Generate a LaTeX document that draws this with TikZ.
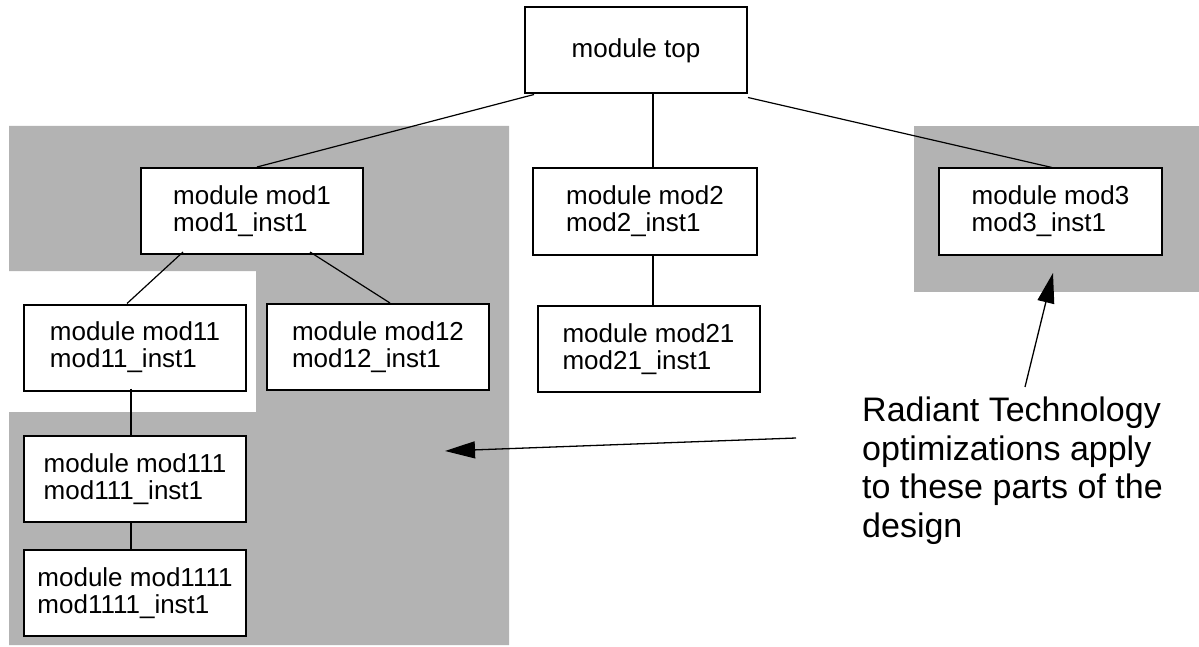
\documentclass[tikz,border=0pt]{standalone}
\usepackage{fontspec}
\setmainfont{Liberation Sans}
\usetikzlibrary{arrows.meta,calc}
\definecolor{regiongray}{RGB}{179,179,179}

\begin{document}
\begin{tikzpicture}[x=1pt,y=-1pt,
		modbox/.style={draw,line width=2pt,fill=white,minimum width=222pt,minimum height=86pt,inner sep=0pt,align=left,font=\fontsize{26}{27}\selectfont},
		link/.style={line width=1.2pt},
		pointer/.style={line width=1.3pt,-{Triangle[length=30pt,width=17pt]}}]
		\useasboundingbox (0,0) rectangle (1199,647);
		
		\fill[regiongray] (9,126) -- (509,126) -- (509,645) -- (9,645) -- (9,412) -- (256,412) -- (256,271) -- (9,271) -- cycle;
		\fill[regiongray] (914,126) rectangle (1199,292);
		
		\node[modbox] (top) at (636,50.5) {module top};
		\node[modbox] (mod1) at (252,211) {module mod1\\mod1\_inst1};
		\node[modbox,minimum width=224pt] (mod2) at (645,211.5) {module mod2\\mod2\_inst1};
		\node[modbox,minimum width=223pt] (mod3) at (1050.5,211.5) {module mod3\\mod3\_inst1};
		\node[modbox] (mod11) at (135,347.5) {module mod11\\mod11\_inst1};
		\node[modbox] (mod12) at (378,347) {module mod12\\mod12\_inst1};
		\node[modbox] (mod21) at (648.5,349) {module mod21\\mod21\_inst1};
		\node[modbox] (mod111) at (135,479) {module mod111\\mod111\_inst1};
		\node[modbox] (mod1111) at (135,593) {module mod1111\\mod1111\_inst1};
		
		\draw[link] ([xshift=10pt]top.south west) -- ([xshift=5pt]mod1.north);
		\draw[link] ([xshift=17pt]top.south) -- ([xshift=8pt]mod2.north);
		\draw[link] ([yshift=-3pt]top.south east) -- ([xshift=1.5pt]mod3.north);
		\draw[link] ([xshift=8pt]mod2.south) -- ([xshift=4.5pt]mod21.north);
		\draw[link] ([xshift=-69pt,yshift=3pt]mod1.south) -- ([xshift=-8pt]mod11.north);
		\draw[link] ([xshift=58pt,yshift=3pt]mod1.south) -- ([xshift=12pt]mod12.north);
		\draw[link] ([xshift=-4pt,yshift=3pt]mod11.south) -- ([xshift=-4pt]mod111.north);
		\draw[link] ([xshift=-4pt]mod111.south) -- ([xshift=-4pt]mod1111.north);
		
		\node[anchor=north west,inner sep=0pt,align=left,font=\fontsize{34}{38.5}\selectfont] (note) at (862,397) {Radiant Technology\\optimizations apply\\to these parts of the\\design};
		
		\coordinate (tailL) at (796,438);
		\coordinate (tipL) at (445,451);
		\coordinate (tailR) at (1025,387);
		\coordinate (tipR) at (1053,273);
		\draw[pointer] (tailL) -- (tipL);
		\draw[pointer] (tailR) -- (tipR);
\end{tikzpicture}
\end{document}
